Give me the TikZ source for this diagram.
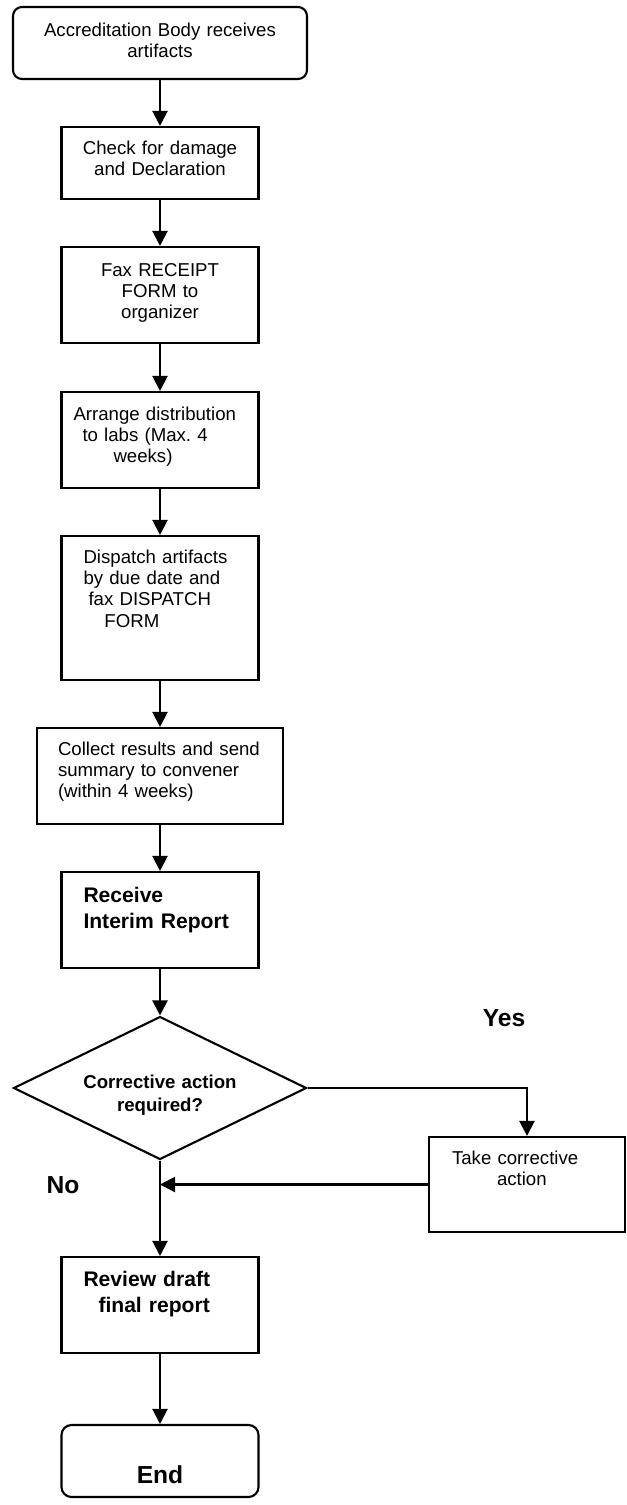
\documentclass[tikz,border=0pt]{standalone}
\usepackage{fontspec}
\setmainfont{Liberation Sans}
\usetikzlibrary{arrows.meta,shapes.geometric}
\tikzset{>={Triangle[length=0.3cm,width=0.3cm]}}

\begin{document}
\begin{tikzpicture}[line width=1.2pt,
        stepbox/.style={draw,inner sep=0pt,text width=3.94cm,align=center,font=\fontsize{10.6}{12.2}\selectfont},
        boldtext/.style={font=\fontsize{12}{14.8}\selectfont\bfseries},
        bigtext/.style={font=\fontsize{14}{16}\selectfont\bfseries},
        decision/.style={diamond,draw,aspect=2,inner sep=0pt,minimum width=5.86cm,minimum height=2.86cm,
            text width=3.4cm,align=center,text height=0.3cm,text depth=0.3cm,font=\fontsize{10.6}{13.6}\selectfont\bfseries}]
            \draw[draw=none,use as bounding box] (0,0) rectangle (12.52,-30.1);
            \node[stepbox,rounded corners=0.18cm,text width=5.88cm,text height=0.58cm,text depth=0.86cm] (recv) at (3.2,-0.86) {Accreditation Body receives\\artifacts};
            \node[stepbox,text height=0.54cm,text depth=0.9cm] (check) at (3.2,-3.26) {Check for damage\\and Declaration};
            \node[stepbox,text height=0.58cm,text depth=1.34cm] (fax) at (3.2,-5.9) {Fax RECEIPT\\FORM to\\organizer};
            \node[stepbox,align=left,inner xsep=0.24cm,text width=3.46cm,text height=0.56cm,text depth=1.36cm] (arrange) at (3.2,-8.8) {Arrange distribution\\\hspace*{0.18cm}to labs (Max.\ 4\\\hspace*{0.8cm}weeks)};
            \node[stepbox,align=left,inner xsep=0.44cm,text width=3.06cm,text height=0.54cm,text depth=2.34cm] (dispatch) at (3.2,-12.16) {Dispatch artifacts\\by due date and\\\hspace*{0.1cm}fax DISPATCH\\\hspace*{0.42cm}FORM};
            \node[stepbox,align=left,inner xsep=0.42cm,text width=4.08cm,text height=0.54cm,text depth=1.38cm] (collect) at (3.2,-15.52) {Collect results and send\\summary to convener\\(within 4 weeks)};
            \node[stepbox,boldtext,align=left,inner xsep=0.44cm,text width=3.06cm,text height=0.6cm,text depth=1.32cm] (interim) at (3.2,-18.4) {Receive\\Interim Report};
            \node[decision] (corr) at (3.2,-21.76) {Corrective action\\required?};
            \node[stepbox,align=left,inner xsep=0.46cm,text width=3.0cm,text height=0.54cm,text depth=1.36cm] (take) at (10.54,-23.69) {Take corrective\\\hspace*{0.9cm}action};
            \node[stepbox,boldtext,align=left,inner xsep=0.44cm,text width=3.06cm,text height=0.58cm,text depth=1.34cm] (review) at (3.2,-26.1) {Review draft\\\hspace*{0.3cm}final report};
            \node[stepbox,bigtext,rounded corners=0.2cm,text height=1.16cm,text depth=0.28cm] (finish) at (3.2,-29.22) {End};
            \node[bigtext] (yes) at (10.08,-20.36) {Yes};
            \node[bigtext] (no) at (1.26,-23.7) {No};
            % main column
            \foreach \a/\b in {recv/check,check/fax,fax/arrange,arrange/dispatch,dispatch/collect,collect/interim,interim/corr}
                \draw[->] (\a) -- (\b);
            % yes branch and return
            \draw[->] (corr.east) -| (take.north);
            \coordinate (join) at (corr.south |- take.west);
            \draw[->] (take.west) -- (join);
            \draw[->] (corr.south) -- (review.north);
            \draw[->] (review) -- (finish);
        \end{tikzpicture}
\end{document}
